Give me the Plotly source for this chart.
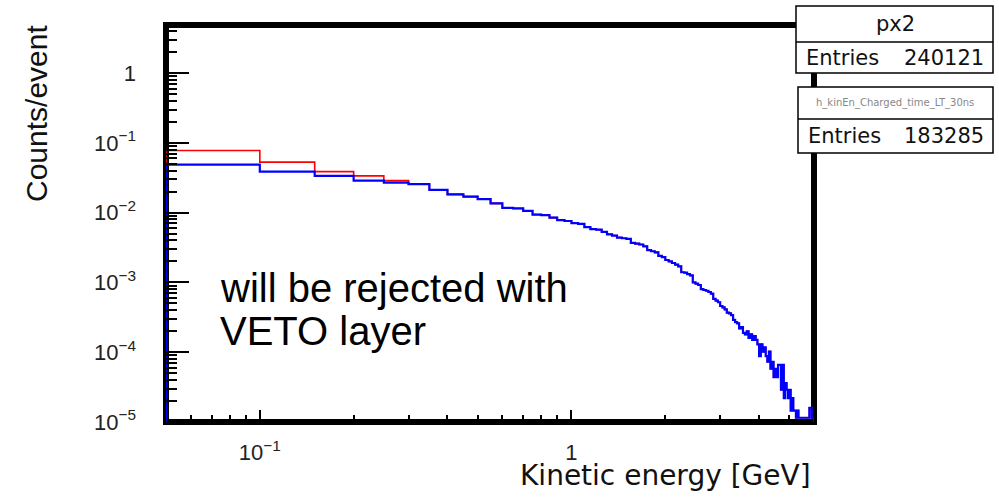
import numpy as np
import plotly.graph_objects as go

# ---------------- data ----------------
# histogram bins of 0.05 GeV, lower edges from 0.05 to 5.95 GeV
bin_lo = np.round(np.arange(0.05, 5.951, 0.05), 2)
bin_hi = np.round(bin_lo + 0.05, 2)

# blue: h_kinEn_Charged_time_LT_30ns (Counts/event per bin)
blue_counts = [
    0.0490, 0.0388, 0.0337, 0.0288, 0.0270, 0.0256, 0.0212, 0.0183, 0.0170, 0.0156,
    0.0136, 0.0117, 0.0115, 0.0106, 0.0094, 0.0092, 0.0085, 0.0078, 0.0076, 0.0071,
    0.0069, 0.0062, 0.0058, 0.0057, 0.0053, 0.0049, 0.0047, 0.0044, 0.0043, 0.0042,
    0.0037, 0.0036, 0.0035, 0.0033, 0.0029, 0.0028, 0.0027, 0.0024, 0.0023, 0.0021,
    0.0020, 0.0019, 0.0018, 0.0017, 0.0014, 0.00138, 0.00132, 0.00126, 0.00100, 0.00096,
    0.00092, 0.00080, 0.00078, 0.00076, 0.00073, 0.00069, 0.00058, 0.00055, 0.00052, 0.00046,
    0.00044, 0.00041, 0.00037, 0.00036, 0.00034, 0.00029, 0.00027, 0.00026, 0.00022, 0.00023,
    0.00019, 0.00018, 0.00020, 0.00016, 0.00018, 0.00015, 0.00017, 0.00015, 0.00013, 0.000088,
    0.00013, 0.000102, 0.000117, 0.000088, 0.000073, 0.000102, 0.000058, 0.000073, 0.000044, 0.000058,
    0.000044, 0.000066, 0.000066, 0.000029, 0.000066, 0.000022, 0.000036, 0.000029, 0.000022, 0.000029,
    0.0000146, 0.000022, 0.0000146, 0.0000146, 0.0000115, 0.0000146, 0.0000115, 0.0000115, 0.0000115, 0.0000115,
    0.0000115, 0.0000115, 0.0000115, 0.0000115, 0.0000115, 0.0000160, 0.0000160, 0.0000115, 0.0000115,
]
# red: px2 — differs only in the lowest bins, identical to blue above 0.3 GeV
red_low = [0.0778, 0.0530, 0.0388, 0.0337, 0.0288]
red_counts = red_low + blue_counts[len(red_low):]

y_tick_vals = [1e-5, 1e-4, 1e-3, 1e-2, 1e-1, 1]
y_tick_text = ["10<sup>−5</sup>", "10<sup>−4</sup>", "10<sup>−3</sup>",
               "10<sup>−2</sup>", "10<sup>−1</sup>", "1"]
x_tick_vals = [0.1, 1]
x_tick_text = ["10<sup>−1</sup>", "1"]

stats1_name, stats1_entries = "px2", "240121"
stats2_name, stats2_entries = "h_kinEn_Charged_time_LT_30ns", "183285"

# ---------------- layout geometry ----------------
W, H = 999, 498
L, R, T, B = 166, 185, 25, 76
PW, PH = W - L - R, H - T - B
X_RANGE = [np.log10(0.05), np.log10(6.0)]
Y_RANGE = [-5, 0.69]
FLOOR = 10 ** Y_RANGE[0]


def px(x):
    return (x - L) / PW


def py(y):
    return (H - B - y) / PH


def hist_xy(values):
    edges = list(bin_lo) + [bin_hi[-1]]
    xs = [edges[0]] + edges[:-1] + [edges[-1], edges[-1]]
    ys = [FLOOR] + list(values) + [values[-1], FLOOR]
    return xs, ys


fig = go.Figure()
for vals, col, lw in [(red_counts, "#ff0000", 1.6), (blue_counts, "#0000ff", 2.2)]:
    xs, ys = hist_xy(vals)
    fig.add_trace(go.Scatter(x=xs, y=ys, mode="lines", line=dict(color=col, width=lw, shape="hv"),
                             hoverinfo="skip", showlegend=False))

y_minor = [m * 10.0 ** k for k in range(-5, 1) for m in range(2, 10) if m * 10.0 ** k < 10 ** Y_RANGE[1]]
x_minor = [m * 10.0 ** k for k in range(-2, 1) for m in range(2, 10)
           if 0.05 < m * 10.0 ** k < 6.0 and not (m * 10.0 ** k == 0.1 or m * 10.0 ** k == 1)]

tick_font = dict(family="Liberation Sans, Arial", size=22, color="#222")

fig.update_layout(
    width=W, height=H, autosize=False,
    margin=dict(l=L, r=R, t=T, b=B, pad=0),
    paper_bgcolor="white", plot_bgcolor="white",
    showlegend=False,
    xaxis=dict(type="log", range=X_RANGE, tickmode="array", tickvals=x_tick_vals, ticktext=x_tick_text,
               ticks="inside", ticklen=12, tickwidth=1.5, tickcolor="black",
               minor=dict(tickmode="array", tickvals=x_minor, ticks="inside", ticklen=7,
                          tickwidth=1.5, tickcolor="black", showgrid=False),
               showgrid=False, zeroline=False, showline=False, tickfont=tick_font,
               ticklabelstandoff=15),
    yaxis=dict(type="log", range=Y_RANGE, tickmode="array", tickvals=y_tick_vals, ticktext=y_tick_text,
               ticks="inside", ticklen=23, tickwidth=1.5, tickcolor="black",
               minor=dict(tickmode="array", tickvals=y_minor, ticks="inside", ticklen=11,
                          tickwidth=1.5, tickcolor="black", showgrid=False),
               showgrid=False, zeroline=False, showline=False, tickfont=tick_font,
               ticklabelstandoff=29),
)

shapes = [
    # thick ROOT frame
    dict(type="rect", xref="paper", yref="paper", x0=0, x1=1, y0=0, y1=1,
         line=dict(color="black", width=6), fillcolor="rgba(0,0,0,0)", layer="below"),
    # stats box 1
    dict(type="rect", xref="paper", yref="paper", x0=px(796), x1=px(993), y0=py(73), y1=py(6),
         line=dict(color="black", width=1.5), fillcolor="white", layer="above"),
    dict(type="line", xref="paper", yref="paper", x0=px(796), x1=px(993), y0=py(42), y1=py(42),
         line=dict(color="black", width=1.5), layer="above"),
    # stats box 2
    dict(type="rect", xref="paper", yref="paper", x0=px(798), x1=px(993), y0=py(153), y1=py(87),
         line=dict(color="black", width=1.5), fillcolor="white", layer="above"),
    dict(type="line", xref="paper", yref="paper", x0=px(798), x1=px(993), y0=py(119), y1=py(119),
         line=dict(color="black", width=1.5), layer="above"),
]
fig.update_layout(shapes=shapes)

root_font = dict(family="DejaVu Sans", size=21, color="#111")
ann = [
    dict(text="Counts/event", x=px(36), y=py(114), textangle=-90,
         font=dict(family="Liberation Sans, Arial", size=30, color="#111"), xanchor="center", yanchor="middle"),
    dict(text="Kinetic energy [GeV]", x=px(813), y=py(475),
         font=dict(family="DejaVu Sans", size=28, color="#111"), xanchor="right", yanchor="middle"),
    dict(text="will be rejected with", x=px(218), y=py(288),
         font=dict(family="Liberation Sans, Arial", size=40, color="black"), xanchor="left", yanchor="middle"),
    dict(text="VETO layer", x=px(218), y=py(331),
         font=dict(family="Liberation Sans, Arial", size=40, color="black"), xanchor="left", yanchor="middle"),
    dict(text=stats1_name, x=px(895), y=py(24), font=root_font, xanchor="center", yanchor="middle"),
    dict(text="Entries", x=px(804), y=py(57.5), font=root_font, xanchor="left", yanchor="middle"),
    dict(text=stats1_entries, x=px(986), y=py(57.5), font=root_font, xanchor="right", yanchor="middle"),
    dict(text=stats2_name, x=px(895), y=py(103), font=dict(family="DejaVu Sans", size=10, color="#888"),
         xanchor="center", yanchor="middle"),
    dict(text="Entries", x=px(806), y=py(136), font=root_font, xanchor="left", yanchor="middle"),
    dict(text=stats2_entries, x=px(986), y=py(136), font=root_font, xanchor="right", yanchor="middle"),
]
for a in ann:
    a.update(xref="paper", yref="paper", showarrow=False)
fig.update_layout(annotations=ann)

fig.write_html("out.html", include_plotlyjs=True, config={"displayModeBar": False})
